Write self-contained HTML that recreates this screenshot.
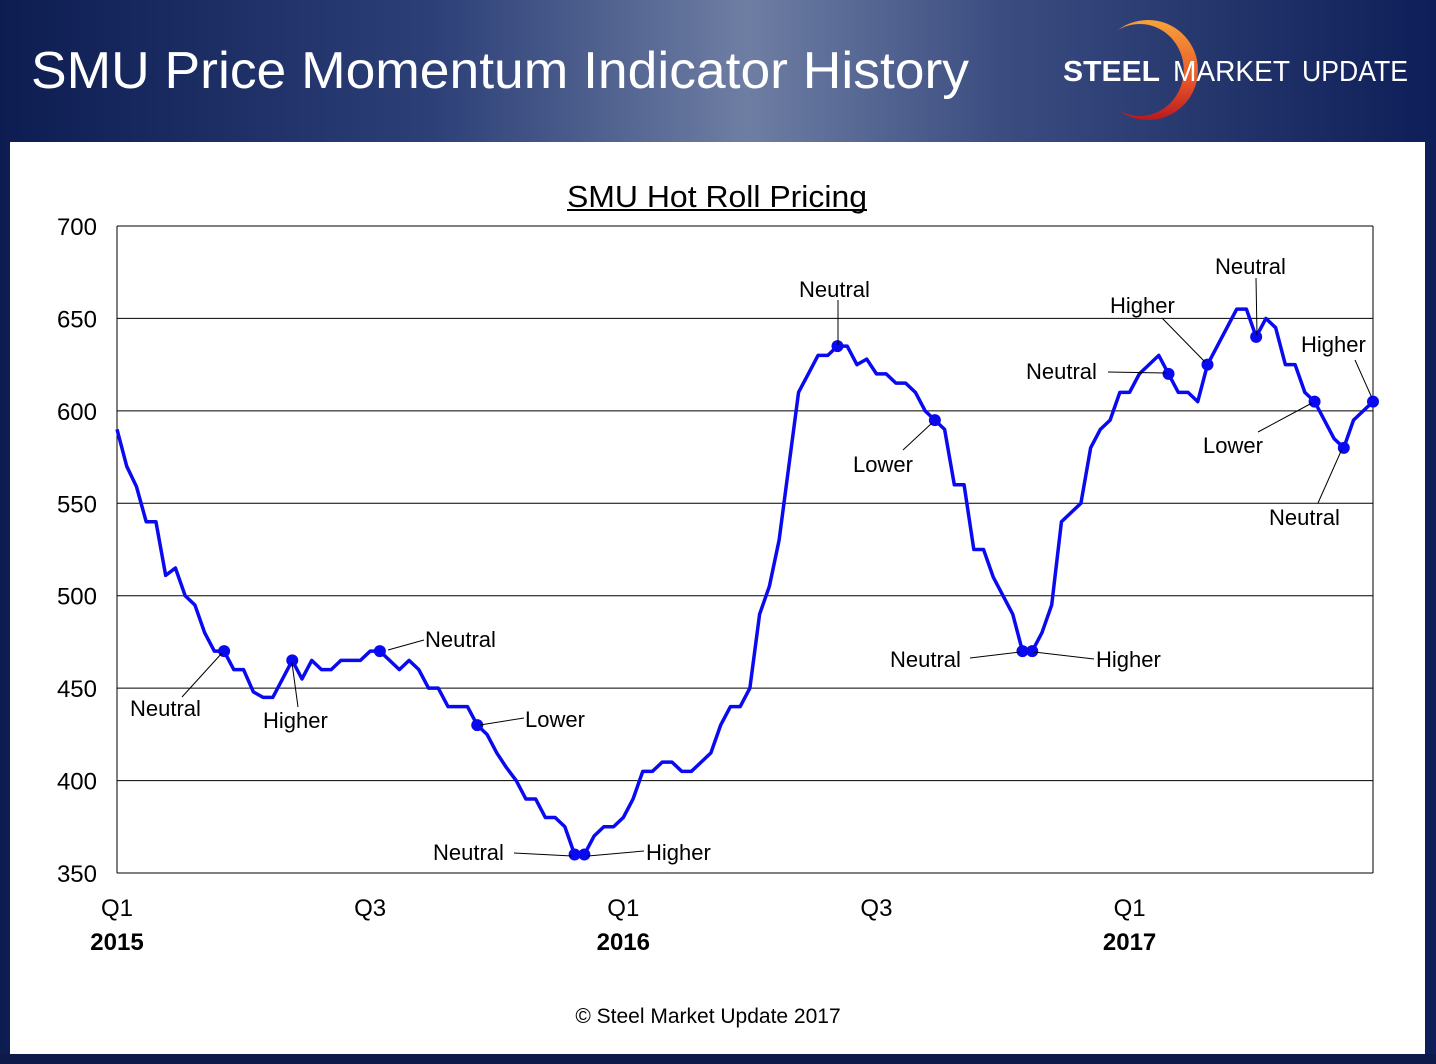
<!DOCTYPE html>
<html><head><meta charset="utf-8">
<style>
html,body{margin:0;padding:0;}
body{width:1436px;height:1064px;overflow:hidden;font-family:"Liberation Sans",sans-serif;
background:linear-gradient(90deg,#0d1d52 0%,#2c3f77 30%,#6e7ea3 52%,#3a4c80 70%,#0e1e58 100%);}
#wrap{position:relative;width:1436px;height:1064px;}
</style></head>
<body>
<div id="wrap">
<svg width="1436" height="1064" style="position:absolute;left:0;top:0">
<defs>
<linearGradient id="cres" x1="0" y1="0" x2="0" y2="1">
<stop offset="0" stop-color="#f7a23a"/><stop offset="0.6" stop-color="#e8562a"/><stop offset="1" stop-color="#b8191f"/>
</linearGradient>
</defs>
<rect x="0" y="1054" width="1436" height="10" fill="#0d1a4a"/>
<text x="31" y="88" font-size="52" fill="#fff" textLength="938" lengthAdjust="spacingAndGlyphs">SMU Price Momentum Indicator History</text>
<g>
<path d="M1118,30 A50,50 0 1,1 1118,110 A44,46 0 1,0 1118,30 Z" fill="url(#cres)"/>
<text x="1063" y="81" font-size="29" fill="#fff" font-weight="bold" textLength="97" lengthAdjust="spacingAndGlyphs">STEEL</text>
<text x="1173" y="81" font-size="29" fill="#fff" textLength="117" lengthAdjust="spacingAndGlyphs">MARKET</text>
<text x="1302" y="81" font-size="29" fill="#fff" style="font-weight:300" textLength="106" lengthAdjust="spacingAndGlyphs">UPDATE</text>
</g>
<rect x="10" y="142" width="1415" height="912" fill="#fff"/>
<text x="567" y="207" font-size="31" fill="#000" textLength="300" lengthAdjust="spacingAndGlyphs">SMU Hot Roll Pricing</text>
<line x1="567" y1="210" x2="867" y2="210" stroke="#000" stroke-width="2"/>
<g id="grid"></g>
<g id="series"></g>
<g id="annot"></g>
<text x="708" y="1023" font-size="21" text-anchor="middle" fill="#000">© Steel Market Update 2017</text>
</svg>
</div>
<script>
const values=[590,570,559,540,540,511,515,500,495,480,470,470,460,460,448,445,445,455,465,455,465,460,460,465,465,465,470,470,465,460,465,460,450,450,440,440,440,430,425,415,407,400,390,390,380,380,375,360,360,370,375,375,380,390,405,405,410,410,405,405,410,415,430,440,440,450,490,505,530,570,610,620,630,630,635,635,625,628,620,620,615,615,610,600,595,590,560,560,525,525,510,500,490,470,470,480,495,540,545,550,580,590,595,610,610,620,625,630,620,610,610,605,625,635,645,655,655,640,650,645,625,625,610,605,595,585,580,595,600,605];
const markerIdx=[11,18,27,37,47,48,74,84,93,94,108,112,117,123,126,129];
const yTicks=[350,400,450,500,550,600,650,700];
const xTickIdx=[0,26,52,78,104];
const xTickQ=["Q1","Q3","Q1","Q3","Q1"];
const xTickYear=["2015","","2016","","2017"];
const annLabels=[
 ["Neutral",130,716,182,697,222,653],["Higher",263,728,298,707,292,663],["Neutral",425,647,388,650,424,640],
 ["Lower",525,727,480,725,524,718],["Neutral",433,860,514,853,572,856],["Higher",646,860,588,856,644,851],
 ["Neutral",799,297,838,300,838,345],["Lower",853,472,903,450,932,423],["Neutral",890,667,970,658,1020,652],
 ["Higher",1096,667,1034,652,1094,659],["Neutral",1026,379,1108,372,1166,373],["Higher",1110,313,1162,318,1205,362],
 ["Neutral",1215,274,1256,278,1257,335],["Higher",1301,352,1355,360,1372,398],["Lower",1203,453,1258,432,1312,403],
 ["Neutral",1269,525,1318,503,1342,449]];
const L=117,R=1373,T=226,B=873,vmin=350,vmax=700;
const N=values.length;
const xs=i=>L+i*(R-L)/(N-1);
const ys=v=>B-(v-vmin)/(vmax-vmin)*(B-T);
const NS="http://www.w3.org/2000/svg";
function mk(tag,attrs,parent){const e=document.createElementNS(NS,tag);for(const k in attrs)e.setAttribute(k,attrs[k]);parent.appendChild(e);return e;}
const grid=document.getElementById('grid');
yTicks.forEach(v=>{
 const l=mk('line',{x1:L,x2:R,y1:ys(v),y2:ys(v),stroke:'#000','stroke-width':1},grid);
 
 
 const t=mk('text',{x:97,y:ys(v)+9,'font-size':24,'text-anchor':'end',fill:'#000'},grid);
 t.textContent=v;
 
 
});
const ax=mk('line',{x1:L,x2:L,y1:T,y2:B,stroke:'#000','stroke-width':1},grid);


const ax2=mk('line',{x1:R,x2:R,y1:T,y2:B,stroke:'#000','stroke-width':1},grid);


xTickIdx.forEach((i,k)=>{
 const t=mk('text',{x:xs(i),y:916,'font-size':24,'text-anchor':'middle',fill:'#000'},grid);
 t.textContent=xTickQ[k];
 
 
 if(xTickYear[k]){
  const y=mk('text',{x:xs(i),y:950,'font-size':24,'font-weight':'bold','text-anchor':'middle',fill:'#000'},grid);
  y.textContent=xTickYear[k];
  
  
 }
});
const ser=document.getElementById('series');
const p=mk('polyline',{points:values.map((v,i)=>xs(i)+','+ys(v)).join(' '),fill:'none',stroke:'#0a0af0','stroke-width':3.5,'stroke-linejoin':'round'},ser);


markerIdx.forEach(i=>{
 const c=mk('circle',{cx:xs(i),cy:ys(values[i]),r:6,fill:'#0a0af0'},ser);
 
 
});
const an=document.getElementById('annot');
annLabels.forEach(a=>{
 const l=mk('line',{x1:a[3],y1:a[4],x2:a[5],y2:a[6],stroke:'#000','stroke-width':1},an);
 
 
 const t=mk('text',{x:a[1],y:a[2],'font-size':22,fill:'#000'},an);
 t.textContent=a[0];
 
 
});
</script>
</body></html>
